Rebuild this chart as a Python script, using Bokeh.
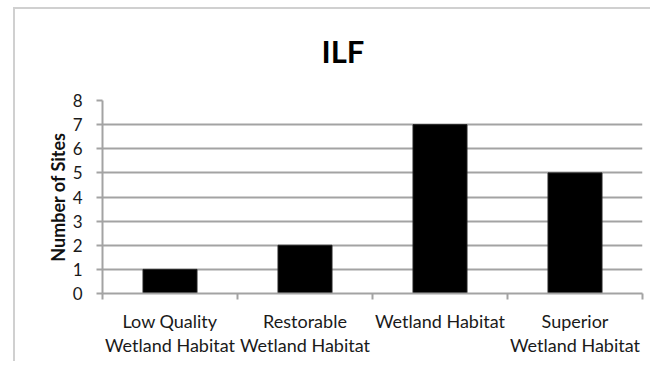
from bokeh.plotting import figure
from bokeh.models import (FactorRange, Range1d, LinearAxis, CategoricalAxis, FixedTicker, Title,
                          ColumnDataSource)
from bokeh.embed import file_html
from bokeh.resources import INLINE

categories = ["Low Quality\nWetland Habitat", "Restorable\nWetland Habitat",
              "Wetland Habitat", "Superior\nWetland Habitat"]
values = [1, 2, 7, 5]
y_ticks = [0, 1, 2, 3, 4, 5, 6, 7, 8]
title_text = "ILF"
y_label = "Number of Sites"

src = ColumnDataSource(data=dict(cat=categories, val=values))

p = figure(x_range=FactorRange(*categories, range_padding=0), y_range=Range1d(0, 8),
           width=637, height=354, output_backend="svg", toolbar_location=None,
           x_axis_location=None, y_axis_location=None,
           min_border_left=87, min_border_right=10, min_border_top=91, min_border_bottom=70)
# chart-area border on the top and left edges, drawn outside the canvas
p.styles = {"box-shadow": "-2px -2px 0 0 #d0d0d0", "margin-left": "15px", "margin-top": "9px"}
p.outline_line_color = None
p.background_fill_color = "white"
p.border_fill_color = "white"

p.vbar(x="cat", top="val", width=0.4, source=src, fill_color="black", line_color="#222222", line_width=1)

grey = "#a3a3a3"
# y axis
ya = LinearAxis(ticker=FixedTicker(ticks=y_ticks), axis_label=y_label)
ya.axis_line_color = grey
ya.axis_line_width = 2
ya.major_tick_line_color = grey
ya.major_tick_line_width = 2
ya.major_tick_out = 6
ya.major_tick_in = 0
ya.minor_tick_line_color = None
ya.major_label_text_font = "Lato"
ya.major_label_text_font_size = "17px"
ya.major_label_text_color = "#1a1a1a"
ya.major_label_standoff = 14
ya.axis_label_text_font = "Lato"
ya.axis_label_text_font_style = "bold"
ya.axis_label_text_font_size = "18px"
ya.axis_label_text_color = "#111111"
ya.axis_label_standoff = 1
p.add_layout(ya, "left")

p.ygrid.ticker = FixedTicker(ticks=y_ticks)
p.ygrid.grid_line_color = grey
p.ygrid.grid_line_width = 2
p.xgrid.grid_line_color = None

# tick axis at category boundaries (synthetic coordinates 0..N of the factor range)
edge_ticks = list(range(len(categories) + 1))
ea = LinearAxis(ticker=FixedTicker(ticks=edge_ticks))
ea.axis_line_color = grey
ea.axis_line_width = 2
ea.major_tick_line_color = grey
ea.major_tick_line_width = 2
ea.major_tick_out = 6
ea.major_tick_in = 0
ea.minor_tick_line_color = None
ea.major_label_overrides = {t: "" for t in edge_ticks}
ea.major_label_standoff = 0
p.add_layout(ea, "below")

ca = CategoricalAxis()
ca.axis_line_color = None
ca.major_tick_line_color = None
ca.minor_tick_line_color = None
ca.major_label_text_font = "Lato"
ca.major_label_text_font_size = "18px"
ca.major_label_text_color = "#1a1a1a"
ca.major_label_text_line_height = 1.1
ca.major_label_standoff = 4
p.add_layout(ca, "below")

# padding is (left, right, top, bottom): bottom padding lifts the title away from the plot
t = Title(text=title_text, align="left", offset=219, standoff=10, padding=(0, 0, 0, 26),
          text_font="Lato", text_font_size="31px", text_font_style="bold", text_color="black")
p.add_layout(t, "above")

open("out.html", "w").write(file_html(p, INLINE))
